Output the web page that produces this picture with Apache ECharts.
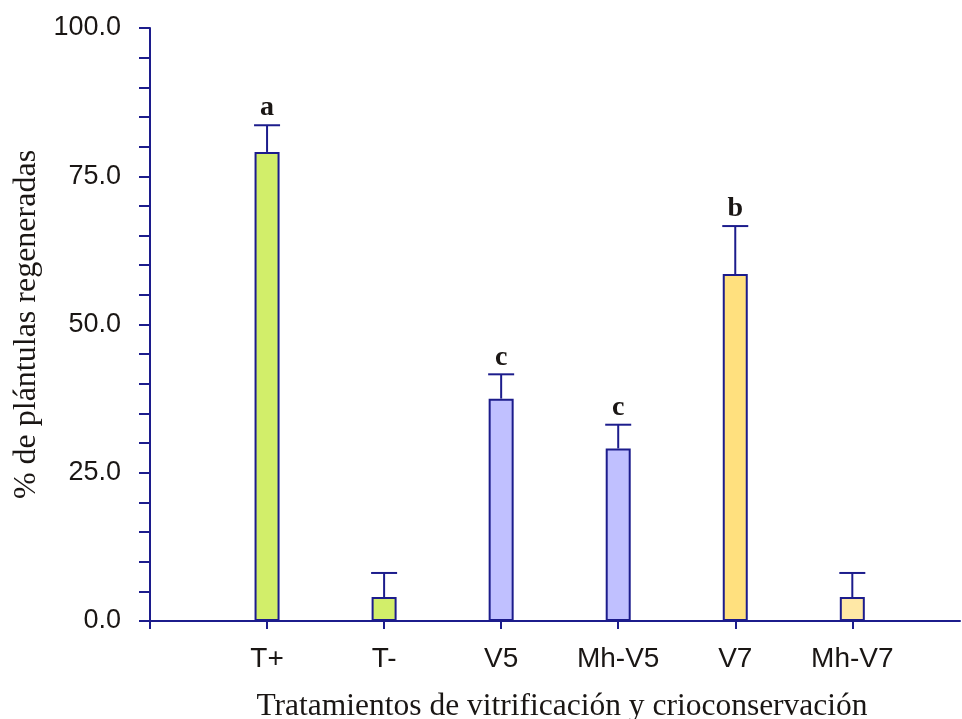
<!DOCTYPE html>
<html>
<head>
<meta charset="utf-8">
<script src="https://cdn.jsdelivr.net/npm/echarts@6/dist/echarts.min.js"></script>
<style>
  html, body { margin: 0; padding: 0; background: #ffffff; }
  #chart { width: 962px; height: 719px; }
</style>
</head>
<body>
<div id="chart"></div>
<script>
// Treatments and regeneration results
const categories = ['T+', 'T-', 'V5', 'Mh-V5', 'V7', 'Mh-V7'];
const means = [79.1, 4.05, 37.5, 29.1, 58.5, 4.05];
const errors = [4.5, 4.05, 4.1, 4.0, 8.1, 4.05];
const letters = ['a', '', 'c', 'c', 'b', ''];
const barColors = ['#d2ee6a', '#d2ee6a', '#c0c0ff', '#c0c0ff', '#ffe07e', '#ffe8a6'];
const yTicks = [0, 25, 50, 75, 100];

const navy = '#1c1c8c';
const textColor = '#1a1614';
const positions = categories.map((c, i) => i + 1);

const chart = echarts.init(document.getElementById('chart'), null, { renderer: 'canvas' });

const barData = means.map((v, i) => ({
  value: [positions[i], v],
  itemStyle: { color: barColors[i], borderColor: navy, borderWidth: 2 }
}));

const errData = means.map((v, i) => [positions[i], v, v + errors[i], letters[i]]);

chart.setOption({
  animation: false,
  backgroundColor: '#ffffff',
  grid: { left: 150, right: 2, top: 28, bottom: 98, containLabel: false, outerBoundsMode: 'none' },
  xAxis: {
    type: 'value',
    min: 0,
    max: 6.92,
    interval: 1,
    name: 'Tratamientos de vitrificación y crioconservación',
    nameLocation: 'middle',
    nameGap: 70,
    nameTextStyle: { fontFamily: 'Liberation Serif', fontSize: 31.5, color: textColor, padding: [0, 0, 0, 14] },
    axisLine: { show: true, lineStyle: { color: navy, width: 2 } },
    axisTick: { show: true, inside: false, length: 8, lineStyle: { color: navy, width: 2 }, customValues: [0].concat(positions) },
    axisLabel: {
      customValues: positions,
      margin: 24,
      fontFamily: 'Liberation Sans',
      fontSize: 28,
      color: textColor,
      formatter: v => categories[Math.round(v) - 1] || ''
    },
    splitLine: { show: false }
  },
  yAxis: {
    type: 'value',
    min: 0,
    max: 100,
    interval: 5,
    name: '% de plántulas regeneradas',
    nameLocation: 'middle',
    nameGap: 103,
    nameTextStyle: { fontFamily: 'Liberation Serif', fontSize: 32, color: textColor },
    axisLine: { show: true, lineStyle: { color: navy, width: 2 } },
    axisTick: { show: true, inside: false, length: 11, lineStyle: { color: navy, width: 2 } },
    axisLabel: {
      margin: 29,
      fontFamily: 'Liberation Sans',
      fontSize: 27,
      color: textColor,
      formatter: v => (yTicks.indexOf(v) >= 0 ? v.toFixed(1) : '')
    },
    splitLine: { show: false }
  },
  series: [
    {
      type: 'bar',
      barWidth: 25,
      data: barData,
      z: 2
    },
    {
      type: 'custom',
      z: 3,
      data: errData,
      renderItem: function (params, api) {
        const x = api.value(0);
        const base = api.coord([x, api.value(1)]);
        const top = api.coord([x, api.value(2)]);
        const half = 13;
        const children = [
          { type: 'line', shape: { x1: base[0], y1: base[1], x2: top[0], y2: top[1] },
            style: { stroke: navy, lineWidth: 2 } },
          { type: 'line', shape: { x1: top[0] - half, y1: top[1], x2: top[0] + half, y2: top[1] },
            style: { stroke: navy, lineWidth: 2 } }
        ];
        const letter = api.value(3);
        if (letter) {
          children.push({
            type: 'text',
            x: top[0],
            y: top[1] - 3,
            style: {
              text: letter,
              fontFamily: 'Liberation Serif',
              fontWeight: 'bold',
              fontSize: 28,
              fill: textColor,
              align: 'center',
              verticalAlign: 'bottom'
            }
          });
        }
        return { type: 'group', children: children };
      }
    }
  ]
});
</script>
</body>
</html>
